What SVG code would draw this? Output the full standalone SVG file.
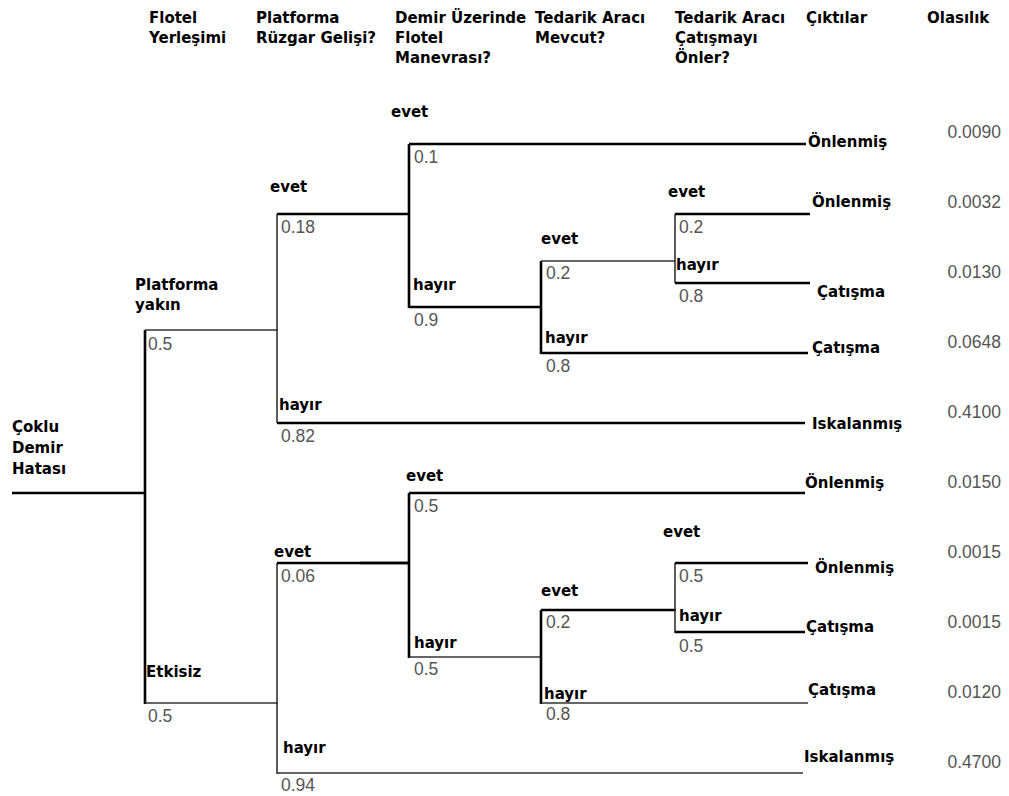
<svg xmlns="http://www.w3.org/2000/svg" width="1009" height="796" viewBox="0 0 1009 796">
  <style>
    .lbl { font-family: "DejaVu Sans", "Liberation Sans", sans-serif; font-weight: bold; font-size: 15px; fill: #000; }
    .p { font-family: "Liberation Sans", Arial, sans-serif; font-size: 17.5px; fill: #555; }
    .pr { font-family: "Liberation Sans", Arial, sans-serif; font-size: 17.5px; fill: #555; text-anchor: end; }
    .thick { stroke: #000; stroke-width: 2.6; fill: none; }
    .thin { stroke: #333; stroke-width: 1.6; fill: none; }
  </style>
  <rect width="1009" height="796" fill="#fff"/>

  <!-- column headings -->
  <g id="headers" class="lbl">
    <text x="149" y="23">Flotel</text>
    <text x="149" y="43">Yerleşimi</text>
    <text x="256" y="23">Platforma</text>
    <text x="256" y="43">Rüzgar Gelişi?</text>
    <text x="395" y="23">Demir Üzerinde</text>
    <text x="395" y="43">Flotel</text>
    <text x="395" y="63">Manevrası?</text>
    <text x="535" y="23">Tedarik Aracı</text>
    <text x="535" y="43">Mevcut?</text>
    <text x="675" y="23">Tedarik Aracı</text>
    <text x="675" y="43">Çatışmayı</text>
    <text x="675" y="63">Önler?</text>
    <text x="806" y="23">Çıktılar</text>
    <text x="927" y="23">Olasılık</text>
  </g>

  <!-- tree branches -->
  <g id="connectors">
    <!-- root -->
    <line class="thick" x1="12" y1="493" x2="145" y2="493"/>
    <line class="thick" x1="145" y1="330" x2="145" y2="704"/>
    <line class="thin" x1="145" y1="330" x2="278" y2="330"/>
    <line class="thin" x1="145" y1="703" x2="278" y2="703"/>

    <!-- upper: wind arrival -->
    <line class="thin" x1="277" y1="214" x2="277" y2="423"/>
    <line class="thick" x1="277" y1="214" x2="410" y2="214"/>
    <line class="thick" x1="277" y1="423" x2="805" y2="423"/>

    <!-- upper: manoeuvre -->
    <line class="thick" x1="409" y1="144" x2="409" y2="308"/>
    <line class="thick" x1="409" y1="144" x2="806" y2="144"/>
    <line class="thick" x1="409" y1="307" x2="542" y2="307"/>

    <!-- upper: supply vessel available -->
    <line class="thick" x1="541" y1="261" x2="541" y2="354"/>
    <line class="thin" x1="541" y1="261" x2="675" y2="261"/>
    <line class="thick" x1="541" y1="353" x2="808" y2="353"/>

    <!-- upper: supply vessel prevents -->
    <line class="thin" x1="675" y1="214" x2="675" y2="283"/>
    <line class="thick" x1="675" y1="214" x2="810" y2="214"/>
    <line class="thick" x1="675" y1="283" x2="810" y2="283"/>

    <!-- lower: wind arrival -->
    <line class="thin" x1="277" y1="563" x2="277" y2="774"/>
    <line class="thick" x1="277" y1="563" x2="410" y2="563"/>
    <line class="thick" x1="360" y1="563" x2="410" y2="563" stroke-width="3.2"/>
    <line class="thin" x1="277" y1="773" x2="803" y2="773"/>

    <!-- lower: manoeuvre -->
    <line class="thick" x1="409" y1="493" x2="409" y2="658"/>
    <line class="thick" x1="409" y1="493" x2="805" y2="493"/>
    <line class="thin" x1="409" y1="657" x2="542" y2="657"/>

    <!-- lower: supply vessel available -->
    <line class="thick" x1="541" y1="610" x2="541" y2="704"/>
    <line class="thick" x1="541" y1="610" x2="676" y2="610"/>
    <line class="thin" x1="541" y1="703" x2="808" y2="703" stroke-width="2"/>

    <!-- lower: supply vessel prevents -->
    <line class="thin" x1="675" y1="563" x2="675" y2="633"/>
    <line class="thick" x1="675" y1="563" x2="808" y2="563"/>
    <line class="thick" x1="675" y1="632" x2="805" y2="632"/>
  </g>

  <!-- root event -->
  <g id="root" class="lbl">
    <text x="12" y="432">Çoklu</text>
    <text x="12" y="453">Demir</text>
    <text x="12" y="474">Hatası</text>
  </g>

  <!-- flotel location -->
  <g id="n-near">
    <text class="lbl" x="135" y="290">Platforma</text>
    <text class="lbl" x="135" y="310">yakın</text>
    <text class="p" x="148" y="350">0.5</text>
  </g>
  <g id="n-none">
    <text class="lbl" x="146" y="677">Etkisiz</text>
    <text class="p" x="148" y="722">0.5</text>
  </g>

  <!-- upper subtree -->
  <g id="n-u-wind-yes">
    <text class="lbl" x="270" y="192">evet</text>
    <text class="p" x="281" y="233">0.18</text>
  </g>
  <g id="n-u-wind-no">
    <text class="lbl" x="279" y="410">hayır</text>
    <text class="p" x="281" y="442">0.82</text>
  </g>
  <g id="n-u-man-yes">
    <text class="lbl" x="391" y="117">evet</text>
    <text class="p" x="414" y="163">0.1</text>
  </g>
  <g id="n-u-man-no">
    <text class="lbl" x="413" y="290">hayır</text>
    <text class="p" x="414" y="326">0.9</text>
  </g>
  <g id="n-u-sup-yes">
    <text class="lbl" x="541" y="244">evet</text>
    <text class="p" x="546" y="279">0.2</text>
  </g>
  <g id="n-u-sup-no">
    <text class="lbl" x="545" y="343">hayır</text>
    <text class="p" x="546" y="372">0.8</text>
  </g>
  <g id="n-u-prev-yes">
    <text class="lbl" x="668" y="197">evet</text>
    <text class="p" x="679" y="233">0.2</text>
  </g>
  <g id="n-u-prev-no">
    <text class="lbl" x="676" y="270">hayır</text>
    <text class="p" x="679" y="302">0.8</text>
  </g>

  <!-- lower subtree -->
  <g id="n-l-wind-yes">
    <text class="lbl" x="274" y="557">evet</text>
    <text class="p" x="281" y="582">0.06</text>
  </g>
  <g id="n-l-wind-no">
    <text class="lbl" x="283" y="753">hayır</text>
    <text class="p" x="281" y="791">0.94</text>
  </g>
  <g id="n-l-man-yes">
    <text class="lbl" x="406" y="481">evet</text>
    <text class="p" x="414" y="512">0.5</text>
  </g>
  <g id="n-l-man-no">
    <text class="lbl" x="414" y="648">hayır</text>
    <text class="p" x="414" y="675">0.5</text>
  </g>
  <g id="n-l-sup-yes">
    <text class="lbl" x="541" y="596">evet</text>
    <text class="p" x="546" y="628">0.2</text>
  </g>
  <g id="n-l-sup-no">
    <text class="lbl" x="544" y="699">hayır</text>
    <text class="p" x="546" y="720">0.8</text>
  </g>
  <g id="n-l-prev-yes">
    <text class="lbl" x="663" y="537">evet</text>
    <text class="p" x="679" y="582">0.5</text>
  </g>
  <g id="n-l-prev-no">
    <text class="lbl" x="679" y="621">hayır</text>
    <text class="p" x="679" y="652">0.5</text>
  </g>

  <!-- outcomes -->
  <g id="outcomes" class="lbl">
    <text x="808" y="147">Önlenmiş</text>
    <text x="812" y="207">Önlenmiş</text>
    <text x="817" y="297">Çatışma</text>
    <text x="812" y="353">Çatışma</text>
    <text x="812" y="429">Iskalanmış</text>
    <text x="805" y="488">Önlenmiş</text>
    <text x="815" y="573">Önlenmiş</text>
    <text x="806" y="632">Çatışma</text>
    <text x="808" y="695">Çatışma</text>
    <text x="804" y="762">Iskalanmış</text>
  </g>

  <!-- outcome probabilities -->
  <g id="probabilities">
    <text class="pr" x="1001" y="138">0.0090</text>
    <text class="pr" x="1001" y="208">0.0032</text>
    <text class="pr" x="1001" y="278">0.0130</text>
    <text class="pr" x="1001" y="348">0.0648</text>
    <text class="pr" x="1001" y="418">0.4100</text>
    <text class="pr" x="1001" y="488">0.0150</text>
    <text class="pr" x="1001" y="558">0.0015</text>
    <text class="pr" x="1001" y="628">0.0015</text>
    <text class="pr" x="1001" y="698">0.0120</text>
    <text class="pr" x="1001" y="768">0.4700</text>
  </g>
</svg>
